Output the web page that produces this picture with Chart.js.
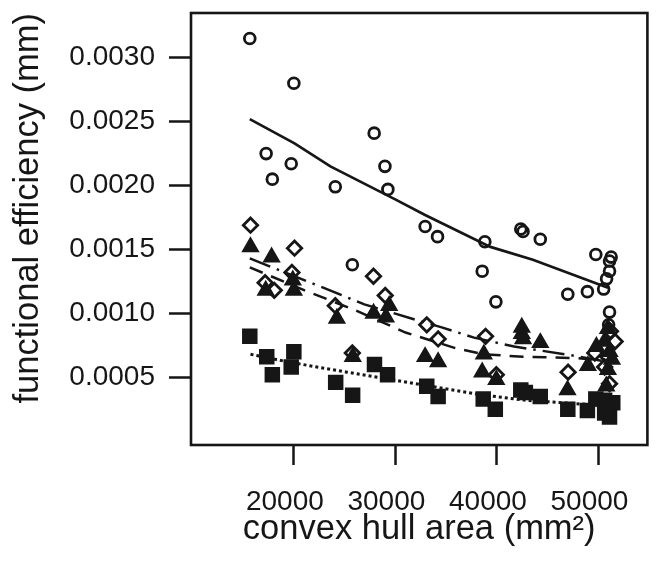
<!DOCTYPE html>
<html>
<head>
<meta charset="utf-8">
<script src="https://cdn.jsdelivr.net/npm/chart.js@4/dist/chart.umd.min.js"></script>
<style>
  html, body { margin: 0; padding: 0; background: #fff; }
  #chart { display: block; }
</style>
</head>
<body>
<canvas id="chart" width="659" height="563"></canvas>
<script>
// ejes
const xTicks = [20000, 30000, 40000, 50000];
const yTicks = [0.0005, 0.0010, 0.0015, 0.0020, 0.0025, 0.0030];

// circulos abiertos
const circleX = [15660, 20000, 17270, 19740, 17880, 24080, 27910, 28970, 29260, 32930, 34150, 25760, 38810, 38550,
                 39900, 42350, 42570, 44270, 46980, 48910, 49740, 51250, 51090, 51090, 50800, 50510, 51090, 51000];
const circleY = [0.00315, 0.00280, 0.00225, 0.00217, 0.00205, 0.00199, 0.00241, 0.00215, 0.00197, 0.00168, 0.00160, 0.00138, 0.00156, 0.00133,
                 0.00109, 0.00166, 0.00164, 0.00158, 0.00115, 0.00117, 0.00146, 0.00144, 0.00141, 0.00133, 0.00127, 0.00119, 0.00101, 0.00091];

// rombos abiertos
const diamondX = [15730, 20065, 19810, 17170, 18070, 24080, 27840, 29000, 25760, 33090, 34210, 38880, 39940, 47010,
                  49640, 51180, 51640, 50930, 50610, 51090];
const diamondY = [0.00169, 0.00151, 0.00132, 0.00124, 0.00118, 0.00106, 0.00129, 0.00114, 0.00069, 0.00091, 0.00080, 0.00082, 0.00052, 0.00054,
                  0.00069, 0.00086, 0.00078, 0.00066, 0.00058, 0.00045];

// triangulos llenos
const triangleX = [15730, 17810, 19900, 20000, 17230, 24240, 25800, 27850, 29390, 29070, 32925, 34210, 38710, 38550,
                   39940, 42450, 42450, 42570, 44270, 46950, 48960, 49800, 51090, 51330, 50930, 50610, 50930, 50770];
const triangleY = [0.00152, 0.00144, 0.00126, 0.00118, 0.00118, 0.00096, 0.00066, 0.00100, 0.00106, 0.00097, 0.00066, 0.00062, 0.00068, 0.00054,
                   0.00048, 0.00089, 0.00084, 0.00080, 0.00077, 0.00040, 0.00059, 0.00074, 0.00070, 0.00064, 0.00056, 0.00078, 0.00088, 0.00043];

// cuadrados llenos
const squareX = [15660, 17330, 17880, 20000, 19740, 24120, 25790, 27940, 29230, 33090, 34210, 38650, 39840, 42350,
                 42800, 44270, 46980, 48910, 49740, 50610, 51410, 50610, 51090, 50870];
const squareY = [0.00082, 0.00066, 0.00052, 0.00070, 0.00058, 0.00046, 0.00036, 0.00060, 0.00052, 0.00043, 0.00035, 0.00033, 0.00025, 0.00040,
                 0.00038, 0.00035, 0.00025, 0.00024, 0.00033, 0.00032, 0.00030, 0.00022, 0.00019, 0.00026];

// curvas de tendencia (lowess)
const circleFitX = [15660, 20065, 23600, 30030, 32925, 39360, 43540, 50935];
const circleFitY = [0.00252, 0.00233, 0.00215, 0.00189, 0.00177, 0.00152, 0.00142, 0.00120];
const diamondFitX = [15660, 22600, 26945, 31575, 34565, 37750, 41700, 46720, 50300];
const diamondFitY = [0.00143, 0.00121, 0.00107, 0.00096, 0.00089, 0.00081, 0.00074, 0.00068, 0.00063];
const triangleFitX = [15660, 21060, 25880, 31000, 35820, 38710, 42570, 47880, 50500];
const triangleFitY = [0.00136, 0.00118, 0.00103, 0.00085, 0.00073, 0.00068, 0.00066, 0.00065, 0.00063];
const squareFitX = [15730, 19420, 25210, 29710, 38710, 42860, 50290];
const squareFitY = [0.00068, 0.00062, 0.00054, 0.00048, 0.00036, 0.00032, 0.00028];

const ink = '#161616';
const fontFamily = "'Liberation Sans', Arial, Helvetica, sans-serif";

function pares(xs, ys) {
    return xs.map((x, i) => ({ x: x, y: ys[i] }));
}

function puntos(xs, ys, estilo, radio, relleno) {
    return {
        data: pares(xs, ys),
        pointStyle: estilo,
        pointRadius: radio,
        pointHoverRadius: radio,
        pointBorderWidth: relleno ? 2.2 : 2.8,
        pointBorderColor: ink,
        pointBackgroundColor: relleno ? ink : 'rgba(0,0,0,0)',
        showLine: false
    };
}

function curva(xs, ys, dash, ancho) {
    return {
        data: pares(xs, ys),
        showLine: true,
        borderColor: ink,
        borderWidth: ancho,
        borderDash: dash,
        borderCapStyle: 'butt',
        pointRadius: 0,
        pointHoverRadius: 0,
        fill: false,
        tension: 0
    };
}

// marco completo alrededor del area de datos
const marco = {
    id: 'marco',
    afterDraw(chart) {
        const { ctx, chartArea: a } = chart;
        ctx.save();
        ctx.lineWidth = 2.6;
        ctx.strokeStyle = ink;
        ctx.strokeRect(a.left, a.top, a.right - a.left, a.bottom - a.top);
        ctx.restore();
    }
};

new Chart(document.getElementById('chart'), {
    type: 'scatter',
    data: {
        datasets: [
            curva(circleFitX, circleFitY, [], 2.7),
            curva(diamondFitX, diamondFitY, [22, 7, 2.5, 7], 2.5),
            curva(triangleFitX, triangleFitY, [14, 9], 2.5),
            curva(squareFitX, squareFitY, [3, 3], 3),
            puntos(circleX, circleY, 'circle', 5.4, false),
            puntos(diamondX, diamondY, 'rectRot', 7.2, false),
            puntos(triangleX, triangleY, 'triangle', 8.4, true),
            puntos(squareX, squareY, 'rect', 9.4, true)
        ]
    },
    options: {
        responsive: false,
        devicePixelRatio: 1,
        animation: false,
        layout: { padding: { top: 13, right: 2, left: 0, bottom: 0 } },
        plugins: {
            legend: { display: false },
            tooltip: { enabled: false }
        },
        scales: {
            x: {
                type: 'linear',
                min: 9870,
                max: 54820,
                afterFit: (s) => { s.height = 118; s.paddingLeft = 0; s.paddingRight = 0; },
                afterBuildTicks: (s) => { s.ticks = xTicks.map(v => ({ value: v })); },
                border: { display: false },
                grid: { drawOnChartArea: false, drawTicks: true, tickLength: 20, tickWidth: 2.5, tickColor: ink },
                ticks: {
                    color: ink,
                    padding: 20,
                    maxRotation: 0,
                    labelOffset: -9,
                    font: { family: fontFamily, size: 28 },
                    callback: (v) => String(v)
                },
                title: {
                    display: true,
                    text: 'convex hull area (mm²)',
                    color: ink,
                    padding: { top: 0, bottom: 13 },
                    font: { family: fontFamily, size: 34.5 }
                }
            },
            y: {
                type: 'linear',
                min: -0.00003,
                max: 0.00335,
                afterFit: (s) => { s.width = 191; s.paddingTop = 0; s.paddingBottom = 0; },
                afterBuildTicks: (s) => { s.ticks = yTicks.map(v => ({ value: v })); },
                border: { display: false },
                grid: { drawOnChartArea: false, drawTicks: true, tickLength: 22, tickWidth: 2.5, tickColor: ink },
                ticks: {
                    color: ink,
                    padding: 14,
                    font: { family: fontFamily, size: 28 },
                    callback: (v) => v.toFixed(4)
                },
                title: {
                    display: true,
                    text: 'functional efficiency (mm)',
                    align: 'end',
                    color: ink,
                    padding: { top: 8, bottom: 0 },
                    font: { family: fontFamily, size: 34.5 }
                }
            }
        }
    },
    plugins: [marco]
});
</script>
</body>
</html>
